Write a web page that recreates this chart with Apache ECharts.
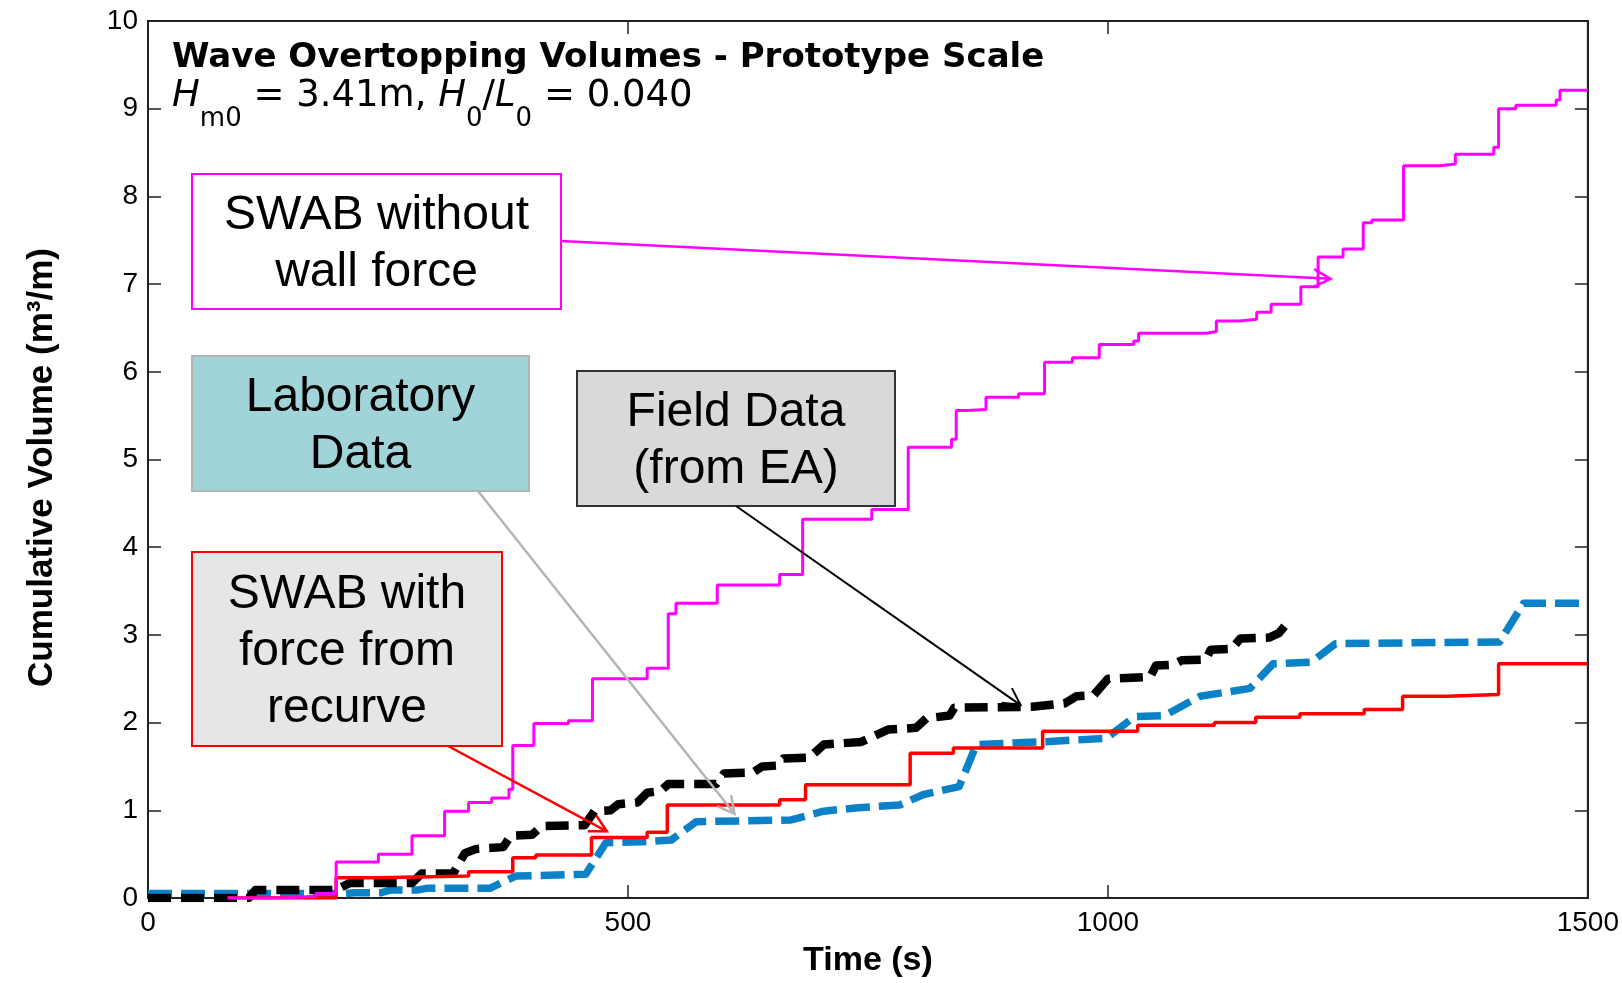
<!DOCTYPE html>
<html><head><meta charset="utf-8">
<script src="https://cdn.jsdelivr.net/npm/echarts@6/dist/echarts.min.js"></script>
<style>html,body{margin:0;padding:0;background:#fff}#c{width:1622px;height:983px}</style>
</head><body><div id="c"></div>
<script>
// ---------------- data ----------------
const xTickValues = [0, 500, 1000, 1500];
const yTickValues = [0,1,2,3,4,5,6,7,8,9,10];

// SWAB without wall force (magenta, step)
const swabNoForceT = [83,139,175,196,240,275,309,334,358,376,380,402,438,463,520,542,550,593,658,682,754,792,837,842,853,873,907,934,963,991,1027,1032,1103,1113,1137,1155,1170,1201,1219,1245,1266,1275,1308,1346,1362,1402,1407,1425,1467,1471,1500];
const swabNoForceV = [0,0.02,0.05,0.41,0.50,0.71,0.99,1.09,1.14,1.24,1.74,1.99,2.02,2.50,2.62,3.24,3.36,3.57,3.69,4.32,4.43,5.14,5.23,5.56,5.57,5.71,5.75,6.11,6.16,6.31,6.35,6.44,6.46,6.58,6.60,6.68,6.77,6.97,7.31,7.40,7.70,7.73,8.35,8.37,8.48,8.56,9.00,9.04,9.10,9.21,9.21];

// SWAB with force from recurve (red, step)
const swabForceT = [83,196,239,334,380,404,462,520,541,658,685,794,839,932,1031,1111,1154,1200,1267,1307,1353,1407,1500];
const swabForceV = [0,0.23,0.25,0.30,0.46,0.49,0.69,0.75,1.06,1.12,1.29,1.65,1.71,1.90,1.97,2.00,2.06,2.10,2.15,2.30,2.32,2.67,2.67];

// Laboratory data (blue dashed)
const labT = [0,205,215,243,252,280,290,356,383,456,477,514,545,571,620,670,704,740,783,808,845,863,930,998,1028,1059,1096,1148,1172,1212,1237,1408,1433,1500];
const labV = [0.05,0.05,0.06,0.06,0.09,0.09,0.11,0.11,0.25,0.27,0.63,0.64,0.66,0.87,0.88,0.89,0.99,1.03,1.06,1.18,1.27,1.75,1.78,1.82,2.07,2.08,2.30,2.39,2.67,2.69,2.90,2.92,3.36,3.36];

// Field data from EA (black dashed)
const fieldT = [0,105,112,195,210,275,285,318,330,342,370,378,400,410,455,465,482,490,510,520,534,542,592,600,630,640,655,662,689,704,743,771,800,811,835,840,921,955,967,985,1000,1044,1050,1068,1077,1102,1107,1129,1138,1168,1178,1188];
const fieldV = [0,0,0.09,0.09,0.17,0.17,0.28,0.28,0.51,0.56,0.58,0.71,0.72,0.82,0.83,0.99,1.0,1.07,1.09,1.20,1.22,1.30,1.30,1.42,1.43,1.50,1.51,1.59,1.60,1.75,1.78,1.92,1.94,2.05,2.08,2.17,2.18,2.22,2.30,2.31,2.50,2.52,2.65,2.66,2.71,2.72,2.83,2.84,2.96,2.97,3.02,3.15];

// annotations: label text and the data point each arrow points to
const annotationLabels = ['SWAB without\nwall force', 'Laboratory\nData', 'Field Data\n(from EA)', 'SWAB with\nforce from\nrecurve'];
const annotationTipT = [1232, 611, 909, 478];
const annotationTipV = [7.06, 0.96, 2.2, 0.76];

const titleLine1 = 'Wave Overtopping Volumes - Prototype Scale';
const xAxisName = 'Time (s)';
const yAxisName = 'Cumulative Volume (m³/m)';

// ---------------- layout / style ----------------
const annStyles = [
  {box:[192,174,369,135], tail:[561,241], fill:'#ffffff', stroke:'#ff00ff', arrow:'#ff00ff', aw:2.5},
  {box:[192,356,337,135], tail:[478,491], fill:'#a0d4d8', stroke:'#b4b4b4', arrow:'#b4b4b4', aw:2.5},
  {box:[577,371,318,135], tail:[736,506], fill:'#d9d9d9', stroke:'#333333', arrow:'#000000', aw:2},
  {box:[192,552,310,194], tail:[448,746], fill:'#e6e6e6', stroke:'#ff0000', arrow:'#ff0000', aw:2.5}
];

function zip(a,b){return a.map((v,i)=>[v,b[i]]);}

const chart = echarts.init(document.getElementById('c'), null, {renderer:'canvas'});
const axisCol = '#222222';
const tickStyle = {show:true, inside:true, length:13, lineStyle:{color:axisCol, width:1.5}};
const labelFont = {color:'#000', fontSize:28, fontFamily:'"Liberation Sans", Arial, sans-serif'};

chart.setOption({
  backgroundColor:'#ffffff',
  animation:false,
  grid:{left:148, right:34, top:21, bottom:83, show:true, borderColor:axisCol, borderWidth:2, backgroundColor:'transparent'},
  xAxis:[
    {type:'value', min:0, max:1500, interval:500, position:'bottom',
     axisLine:{show:true, onZero:false, lineStyle:{color:axisCol, width:2}},
     axisTick:tickStyle, splitLine:{show:false},
     axisLabel:Object.assign({margin:11, formatter:v=>xTickValues.includes(v)?String(v):''}, labelFont),
     name:xAxisName, nameLocation:'middle', nameGap:46,
     nameTextStyle:{color:'#000', fontSize:34, fontWeight:'bold', fontFamily:'"Liberation Sans", Arial, sans-serif'}},
    {type:'value', min:0, max:1500, interval:500, position:'top',
     axisLine:{show:true, onZero:false, lineStyle:{color:axisCol, width:2}},
     axisTick:tickStyle, axisLabel:{show:false}, splitLine:{show:false}}
  ],
  yAxis:[
    {type:'value', min:0, max:10, interval:1, position:'left',
     axisLine:{show:true, onZero:false, lineStyle:{color:axisCol, width:2}},
     axisTick:tickStyle, splitLine:{show:false},
     axisLabel:Object.assign({margin:10, formatter:v=>yTickValues.includes(v)?String(v):''}, labelFont),
     name:yAxisName, nameLocation:'middle', nameGap:88, nameRotate:90,
     nameTextStyle:{color:'#000', fontSize:35, fontWeight:'bold', fontFamily:'"Liberation Sans", Arial, sans-serif', padding:[0,16,0,0]}},
    {type:'value', min:0, max:10, interval:1, position:'right',
     axisLine:{show:true, onZero:false, lineStyle:{color:axisCol, width:2}},
     axisTick:tickStyle, axisLabel:{show:false}, splitLine:{show:false}}
  ],
  series:[
    {name:'Laboratory Data', type:'line', data:zip(labT,labV), showSymbol:false, z:2,
     lineStyle:{color:'#0b82c8', width:7.5, type:[24,9], cap:'butt', join:'round'}},
    {name:'Field Data', type:'line', data:zip(fieldT,fieldV), showSymbol:false, z:3,
     lineStyle:{color:'#000000', width:8.5, type:[23,10], cap:'butt', join:'round'}},
    {name:'SWAB with force', type:'line', step:'end', data:zip(swabForceT,swabForceV), showSymbol:false, z:4,
     lineStyle:{color:'#ff0000', width:3.5}},
    {name:'SWAB without wall force', type:'line', step:'end', data:zip(swabNoForceT,swabNoForceV), showSymbol:false, z:5,
     lineStyle:{color:'#ff00ff', width:3}}
  ]
});

// ---------- annotations & title (graphic) ----------
const mctx = document.createElement('canvas').getContext('2d');
function measure(text, font){ mctx.font = font; return mctx.measureText(text).width; }

const graphics = [];
graphics.push({type:'text', z:100, style:{text:titleLine1, x:172, y:58, fill:'#000',
  font:'bold 34px "DejaVu Sans", sans-serif', align:'left', verticalAlign:'middle'}});
const mainFont = '37px "DejaVu Sans", sans-serif';
const itFont = 'italic 37px "DejaVu Sans", sans-serif';
const subFont = '26px "DejaVu Sans", sans-serif';
const line2 = [
  {t:'H', f:itFont, sub:false}, {t:'m0', f:subFont, sub:true}, {t:' = 3.41m, ', f:mainFont, sub:false},
  {t:'H', f:itFont, sub:false}, {t:'0', f:subFont, sub:true}, {t:'/', f:mainFont, sub:false},
  {t:'L', f:itFont, sub:false}, {t:'0', f:subFont, sub:true}, {t:' = 0.040', f:mainFont, sub:false}
];
let cx = 172;
line2.forEach(p=>{
  graphics.push({type:'text', z:100, style:{text:p.t, x:cx, y:p.sub?119:96, fill:'#000', font:p.f, align:'left', verticalAlign:'middle'}});
  cx += measure(p.t, p.f);
});

annotationLabels.forEach((lab,i)=>{
  const s = annStyles[i];
  const [bx,by,bw,bh] = s.box;
  graphics.push({type:'rect', z:90, shape:{x:bx,y:by,width:bw,height:bh},
    style:{fill:s.fill, stroke:s.stroke, lineWidth:2}});
  graphics.push({type:'text', z:91, style:{text:lab, x:bx+bw/2, y:by+bh/2+3, fill:'#000',
    font:'48px "Liberation Sans", Arial, sans-serif', align:'center', verticalAlign:'middle', lineHeight:57}});
  const tip = chart.convertToPixel({xAxisIndex:0, yAxisIndex:0}, [annotationTipT[i], annotationTipV[i]]);
  const tail = s.tail;
  const dx = tip[0]-tail[0], dy = tip[1]-tail[1], L = Math.hypot(dx,dy);
  const ux = dx/L, uy = dy/L, arm = 19, ang = 28*Math.PI/180;
  const a1 = [tip[0] - arm*(ux*Math.cos(ang) - uy*Math.sin(ang)), tip[1] - arm*(uy*Math.cos(ang) + ux*Math.sin(ang))];
  const a2 = [tip[0] - arm*(ux*Math.cos(ang) + uy*Math.sin(ang)), tip[1] - arm*(uy*Math.cos(ang) - ux*Math.sin(ang))];
  graphics.push({type:'polyline', z:92, shape:{points:[tail, tip]}, style:{stroke:s.arrow, lineWidth:s.aw, fill:null}});
  graphics.push({type:'polyline', z:92, shape:{points:[a1, tip, a2]}, style:{stroke:s.arrow, lineWidth:s.aw, fill:null}});
});

chart.setOption({graphic:graphics});
</script>
</body></html>
